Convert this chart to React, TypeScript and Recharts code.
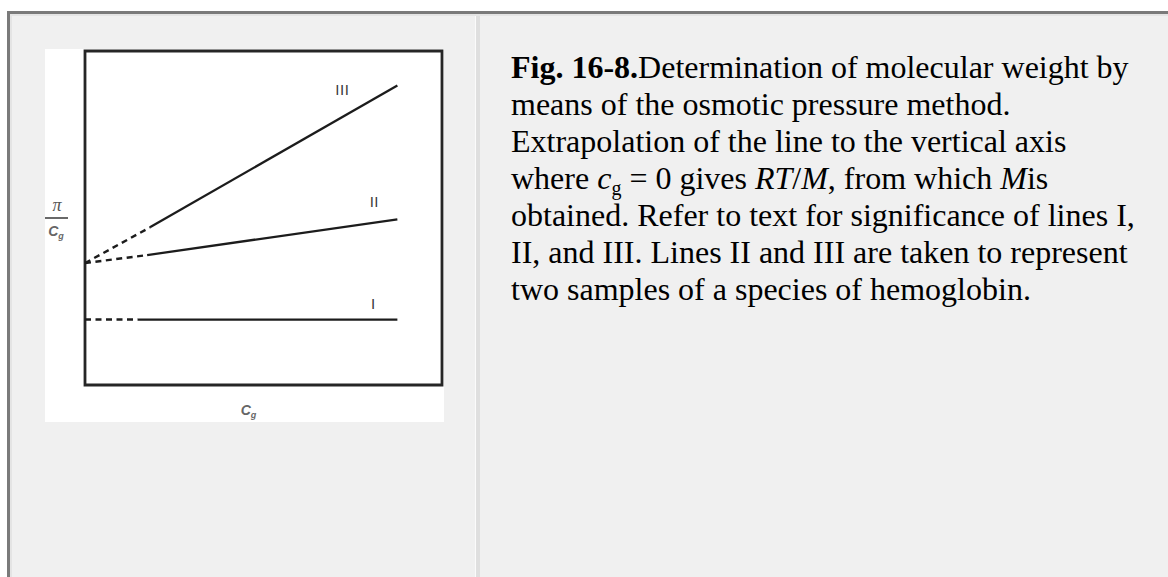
import { ComposedChart, Line, XAxis, YAxis, ReferenceArea, LabelList } from 'recharts';

// pi/c_g against c_g for the three lines; the first segment of each is the
// extrapolation back to c_g = 0, the second the measured part.
const cgI = [0, 1.48, 8.75];
const piI = [1.96, 1.96, 1.96];
const cgII = [0, 1.74, 8.75];
const piII = [3.65, 3.89, 4.96];
const cgIII = [0, 1.82, 8.75];
const piIII = [3.65, 4.72, 8.97];
const lineNames = ['I', 'II', 'III'];

const toRows = (cg: number[], pi: number[]) => cg.map((c, i) => ({ cg: c, pi: pi[i] }));

const series = [
  { name: lineNames[0], rows: toRows(cgI, piI), dx: -24, dy: -16 },
  { name: lineNames[1], rows: toRows(cgII, piII), dx: -23, dy: -17 },
  { name: lineNames[2], rows: toRows(cgIII, piIII), dx: -55, dy: 5 },
];

const INK = '#1c1c1c';

const YLabel = (props: any) => {
  const { x, y, height } = props.viewBox;
  const cy = y + height / 2;
  return (
    <g>
      <text x={x + 12} y={cy - 7} textAnchor="middle" fontFamily="Liberation Serif" fontStyle="italic" fontSize={18} fill="#555">
        π
      </text>
      <line x1={x} x2={x + 23} y1={cy} y2={cy} stroke="#444" strokeWidth={1.6} />
      <text x={x + 11} y={cy + 18} textAnchor="middle" fontFamily="Liberation Sans" fontStyle="italic" fontWeight="bold" fontSize={14} fill="#666">
        C<tspan fontSize={9} dy={3}>g</tspan>
      </text>
    </g>
  );
};

const XLabel = (props: any) => {
  const { x, y, width } = props.viewBox;
  return (
    <text x={x + width / 2 - 15} y={y + 30} textAnchor="middle" fontFamily="Liberation Sans" fontStyle="italic" fontWeight="bold" fontSize={14} fill="#666">
      C<tspan fontSize={9} dy={3}>g</tspan>
    </text>
  );
};

function OsmoticChart() {
  return (
    <ComposedChart width={399} height={373} margin={{ top: 2, right: 2, bottom: 0, left: 0 }}>
      <XAxis
        type="number"
        dataKey="cg"
        domain={[0, 10]}
        allowDataOverflow
        height={37}
        tick={false}
        tickLine={false}
        axisLine={false}
        label={<XLabel />}
      />
      <YAxis
        type="number"
        domain={[0, 10]}
        allowDataOverflow
        width={40}
        tick={false}
        tickLine={false}
        axisLine={false}
        label={<YLabel />}
      />
      <ReferenceArea x1={0} x2={10} y1={0} y2={10} fill="none" stroke="#262626" strokeWidth={2.8} />
      {series.flatMap((s) => [
        <Line
          key={s.name + '-extrap'}
          data={s.rows.slice(0, 2)}
          dataKey="pi"
          stroke={INK}
          strokeWidth={2.4}
          strokeDasharray="6 4.5"
          dot={false}
          isAnimationActive={false}
        />,
        <Line
          key={s.name + '-meas'}
          data={s.rows.slice(1)}
          dataKey="pi"
          stroke={INK}
          strokeWidth={2.3}
          dot={false}
          isAnimationActive={false}
        >
          <LabelList
            dataKey="pi"
            content={(p: any) =>
              p.index === 1 ? (
                <text
                  x={p.x + s.dx}
                  y={p.y + s.dy + 5}
                  textAnchor="middle"
                  fontFamily="Liberation Sans"
                  fontSize={15}
                  letterSpacing={0.5}
                  fill="#3a3a3a"
                >
                  {s.name}
                </text>
              ) : null
            }
          />
        </Line>,
      ])}
    </ComposedChart>
  );
}

export default function App() {
  return (
    <div style={{ position: 'absolute', left: 0, top: 0, width: 1168, height: 577, overflow: 'hidden', background: '#fff' }}>
      {/* page frame */}
      <div
        style={{
          position: 'absolute',
          left: 7,
          top: 11,
          right: -10,
          bottom: -10,
          borderLeft: '3px solid #7a7a7a',
          borderTop: '3px solid #7a7a7a',
          background: '#f0f0f0',
        }}
      >
        <div
          style={{
            position: 'absolute',
            inset: 0,
            borderLeft: '2px solid #e4e4e4',
            borderTop: '2px solid #e4e4e4',
          }}
        />
      </div>
      {/* cell divider */}
      <div style={{ position: 'absolute', left: 475, top: 16, bottom: 0, width: 1, background: '#fbfbfb' }} />
      <div style={{ position: 'absolute', left: 476, top: 16, bottom: 0, width: 4, background: '#dfdfdf' }} />

      <div style={{ position: 'absolute', left: 45, top: 49, width: 399, height: 373, background: '#fff' }}>
        <OsmoticChart />
      </div>

      <div
        style={{
          position: 'absolute',
          left: 511,
          top: 49,
          width: 635,
          fontFamily: '"Liberation Serif", "Times New Roman", serif',
          fontSize: 32,
          lineHeight: '37px',
          color: '#000',
        }}
      >
        <b>Fig. 16-8.</b>Determination of molecular weight by means of the osmotic pressure method. Extrapolation
        of the line to the vertical axis where <i>c</i>
        <sub style={{ fontSize: 20, lineHeight: 0, verticalAlign: -6 }}>g</sub> = 0 gives <i>RT</i>/<i>M</i>, from
        which <i>M</i>is obtained. Refer to text for significance of lines I, II, and III. Lines II and III are
        taken to represent two samples of a species of hemoglobin.
      </div>
    </div>
  );
}
